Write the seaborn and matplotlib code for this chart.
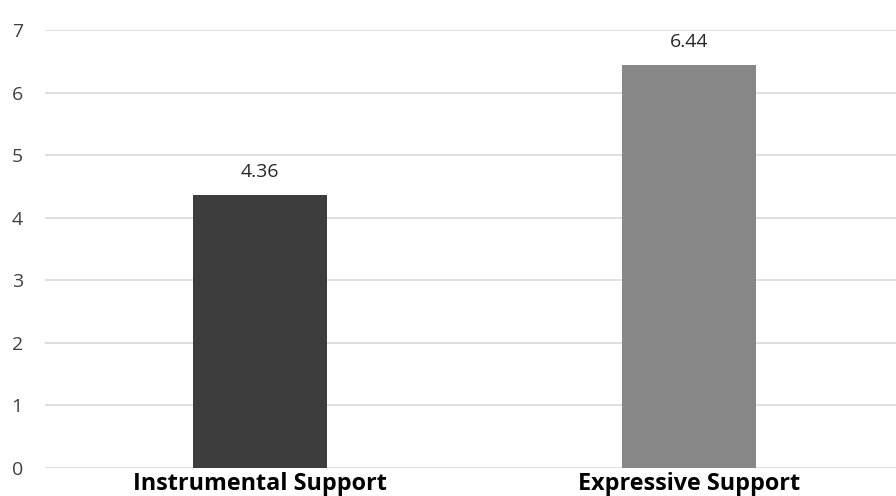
import matplotlib
matplotlib.use("Agg")
import matplotlib.pyplot as plt
import seaborn as sns
import pandas as pd

categories = ["Instrumental Support", "Expressive Support"]
values = [4.36, 6.44]
bar_colors = ["#3d3d3d", "#878787"]
y_ticks = [0, 1, 2, 3, 4, 5, 6, 7]

df = pd.DataFrame({"category": categories, "value": values})

sns.set_theme(style="white")
plt.rcParams["font.family"] = ["Open Sans", "DejaVu Sans"]

fig = plt.figure(figsize=(8.96, 4.96), dpi=100)
ax = fig.add_axes([45 / 896, 28 / 496, 859 / 896, 438 / 496])

sns.barplot(data=df, x="category", y="value", hue="category",
            palette=bar_colors, width=0.312, legend=False, ax=ax,
            saturation=1, linewidth=0, zorder=3)

ax.set_ylim(0, 7)
ax.set_yticks(y_ticks)
ax.yaxis.grid(True, color="#d9d9d9", linewidth=1.2, zorder=0)
ax.set_axisbelow(True)
for s in ax.spines.values():
    s.set_visible(False)

ax.tick_params(axis="y", length=0, pad=16, labelsize=14, labelcolor="#404040")
ax.tick_params(axis="x", length=0, pad=3, labelsize=16.8, labelcolor="black")
for lbl in ax.get_xticklabels():
    lbl.set_fontweight("bold")
ax.set_xlabel("")
ax.set_ylabel("")

for cont in ax.containers:
    ax.bar_label(cont, fmt="%.2f", padding=10, fontsize=14, color="#262626")

fig.savefig("out.png", dpi=100)
